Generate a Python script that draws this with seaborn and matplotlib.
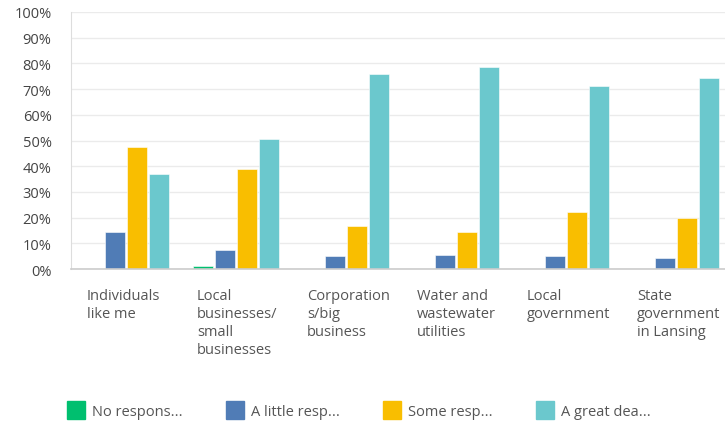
import matplotlib
matplotlib.use("Agg")
import matplotlib.pyplot as plt
from matplotlib.transforms import ScaledTranslation
from matplotlib.lines import Line2D
import seaborn as sns
import pandas as pd

# categories and series (percent)
categories = ["Individuals\nlike me", "Local\nbusinesses/\nsmall\nbusinesses",
              "Corporation\ns/big\nbusiness", "Water and\nwastewater\nutilities",
              "Local\ngovernment", "State\ngovernment\nin Lansing"]
series = ["No respons...", "A little resp...", "Some resp...", "A great dea..."]
no_response = [0.0, 1.3, 0.0, 0.0, 0.0, 0.0]
a_little = [14.3, 7.5, 4.9, 5.4, 4.9, 4.4]
some = [47.4, 38.9, 16.8, 14.3, 22.3, 19.7]
great_deal = [37.0, 50.6, 75.7, 78.5, 71.1, 74.2]
colors = ["#00BF6F", "#507CB6", "#F9BE00", "#6BC8CD"]

rows = []
for s, vals in zip(series, [no_response, a_little, some, great_deal]):
    for c, v in zip(categories, vals):
        rows.append({"category": c, "series": s, "value": v})
df = pd.DataFrame(rows)

sns.set_style("white")
plt.rcParams["font.family"] = ["Open Sans", "DejaVu Sans"]

fig = plt.figure(figsize=(7.25, 4.31), dpi=100)
ax = fig.add_axes([71 / 725, 161 / 431, 660 / 725, 257 / 431])

sns.barplot(data=df, x="category", y="value", hue="series", palette=colors,
            saturation=1, width=0.8, gap=0.1, ax=ax, legend=False,
            edgecolor="white", linewidth=0.4)

ax.set_ylim(0, 100)
ax.set_xlim(-0.5, len(categories) - 0.5)
ax.set_yticks(range(0, 101, 10))
ax.set_yticklabels([f"{t}%" for t in range(0, 101, 10)])
ax.yaxis.grid(True, color="#ebebeb", linewidth=1)
ax.set_axisbelow(True)
ax.set_xlabel("")
ax.set_ylabel("")
ax.tick_params(axis="y", length=0, pad=14, labelsize=10.5, labelcolor="#444444")
ax.tick_params(axis="x", length=0, pad=14, labelsize=10.5, labelcolor="#555555")
for side in ["top", "right"]:
    ax.spines[side].set_visible(False)
ax.spines["left"].set_color("#dddddd")
ax.spines["bottom"].set_color("#cccccc")
ax.spines["bottom"].set_linewidth(1.2)

offset = ScaledTranslation(-0.39, 0, fig.dpi_scale_trans)
for lab in ax.get_xticklabels():
    lab.set_horizontalalignment("left")
    lab.set_verticalalignment("top")
    lab.set_linespacing(1.25)
    lab.set_transform(lab.get_transform() + offset)

handles = [Line2D([0], [0], marker="s", linestyle="", markersize=13,
                  markerfacecolor=c, markeredgecolor=c) for c in colors]
leg = fig.legend(handles, series, loc="center", bbox_to_anchor=(359 / 725, 1 - 413 / 431),
                 ncol=4, frameon=False, fontsize=10.5, handletextpad=0.5,
                 columnspacing=3.0, handlelength=1.2)
for t in leg.get_texts():
    t.set_color("#555555")

fig.savefig("out.png", dpi=100)
